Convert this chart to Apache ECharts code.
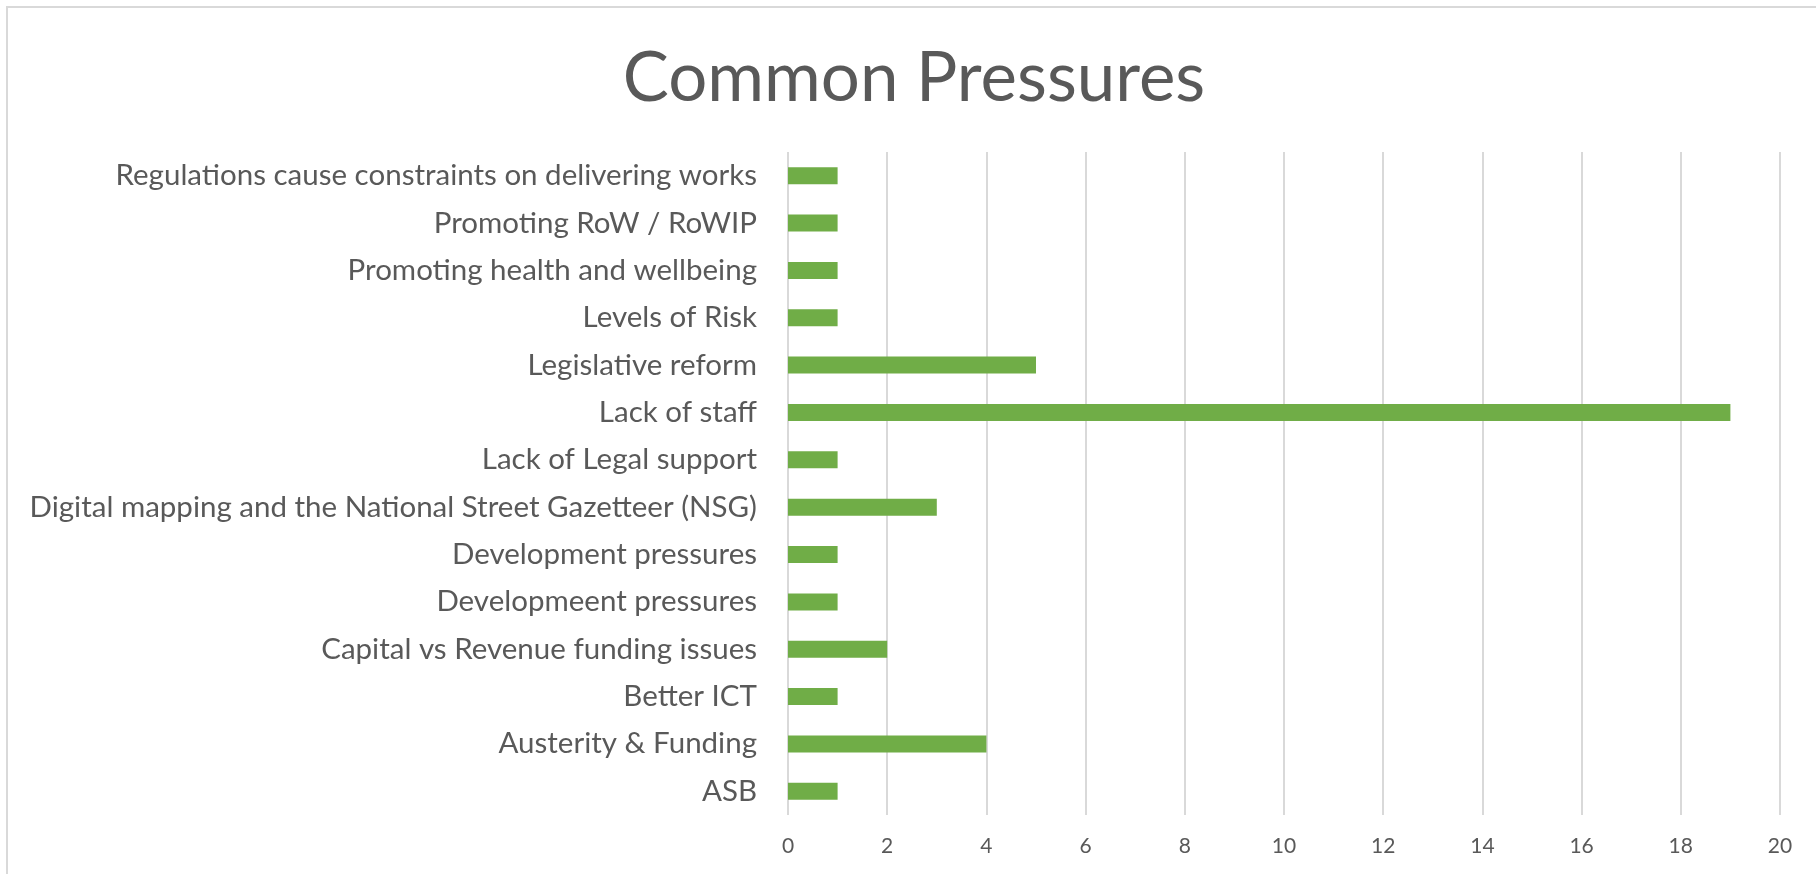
<!DOCTYPE html>
<html>
<head>
<meta charset="utf-8">
<script src="https://cdn.jsdelivr.net/npm/echarts@6/dist/echarts.min.js"></script>
<style>
  html, body { margin: 0; padding: 0; background: #fff; }
  #grafico { width: 1816px; height: 874px; }
</style>
</head>
<body>
<div id="grafico"></div>
<script>
// Datos (de abajo hacia arriba, como en el eje de categorías)
const categories = [
  "ASB",
  "Austerity & Funding",
  "Better ICT",
  "Capital vs Revenue funding issues",
  "Developmeent pressures",
  "Development pressures",
  "Digital mapping and the National Street Gazetteer (NSG)",
  "Lack of Legal support",
  "Lack of staff",
  "Legislative reform",
  "Levels of Risk",
  "Promoting health and wellbeing",
  "Promoting RoW / RoWIP",
  "Regulations cause constraints on delivering works"
];
const counts = [1, 4, 1, 2, 1, 1, 3, 1, 19, 5, 1, 1, 1, 1];
const xTicks = [0, 20, 2]; // min, max, interval

const textColor = "#595959";
const font = "Lato";

let options = {
  animation: false,
  textStyle: { fontFamily: font },
  title: {
    text: "Common Pressures",
    left: 909,
    top: 39,
    textAlign: "center",
    textStyle: { fontFamily: font, fontSize: 69, fontWeight: "normal", color: textColor }
  },
  graphic: [
    {
      type: "rect",
      shape: { x: 7, y: 7, width: 2000, height: 2000 },
      style: { fill: "none", stroke: "#d9d9d9", lineWidth: 2 }
    }
  ],
  grid: { left: 788, right: 36, top: 152, bottom: 59 },
  xAxis: {
    type: "value",
    min: xTicks[0],
    max: xTicks[1],
    interval: xTicks[2],
    axisLine: { show: false },
    axisTick: { show: false },
    axisLabel: { color: textColor, fontSize: 21, margin: 21, fontFamily: font },
    splitLine: { show: true, lineStyle: { color: "#d9d9d9", width: 2 } }
  },
  yAxis: {
    type: "category",
    data: categories,
    axisLine: { show: false },
    axisTick: { show: false },
    axisLabel: { color: textColor, fontSize: 29.5, margin: 31, fontFamily: font }
  },
  series: [
    {
      name: "Common Pressures",
      type: "bar",
      data: counts,
      barWidth: 17,
      itemStyle: { color: "#70AD47" }
    }
  ]
};

let barChart = echarts.init(document.getElementById("grafico"));
barChart.setOption(options);
</script>
</body>
</html>
